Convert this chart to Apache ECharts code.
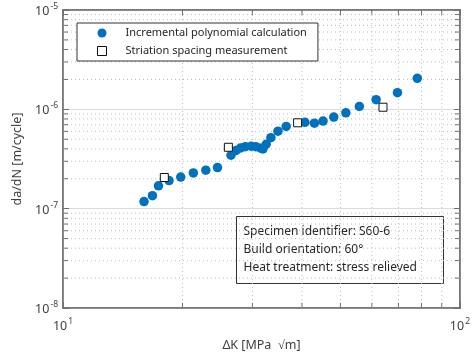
<!DOCTYPE html>
<html>
<head>
<meta charset="utf-8">
<script src="https://cdn.jsdelivr.net/npm/echarts@6/dist/echarts.min.js"></script>
<style>
  html, body { margin: 0; padding: 0; background: #fff; }
  #chart { width: 473px; height: 358px; }
</style>
</head>
<body>
<div id="chart"></div>
<script>
// Incremental polynomial calculation (ΔK in MPa√m, da/dN in m/cycle)
const polyDK = [16.0, 16.8, 17.4, 18.5, 19.8, 21.3, 22.9, 24.5, 26.5, 27.3, 28.0, 28.8, 29.8, 30.6,
  31.5, 31.9, 32.5, 33.4, 34.8, 36.5, 40.7, 43.0, 45.2, 48.1, 51.6, 55.8, 61.5, 69.6, 78.1]
const polyRate = [1.18e-7, 1.35e-7, 1.70e-7, 1.92e-7, 2.08e-7, 2.29e-7, 2.44e-7, 2.59e-7, 3.45e-7,
  3.86e-7, 4.08e-7, 4.21e-7, 4.25e-7, 4.21e-7, 4.06e-7, 3.99e-7, 4.45e-7, 5.18e-7, 6.03e-7,
  6.72e-7, 7.40e-7, 7.25e-7, 7.61e-7, 8.35e-7, 9.22e-7, 1.07e-6, 1.25e-6, 1.47e-6, 2.05e-6]

// Striation spacing measurement
const striDK = [18.0, 26.1, 39.0, 64.0]
const striRate = [2.06e-7, 4.15e-7, 7.32e-7, 1.05e-6]

// minor grid / tick values
const xMinor = [20, 30, 40, 50, 60, 70, 80, 90]
const yMinor = [2e-8, 3e-8, 4e-8, 5e-8, 6e-8, 7e-8, 8e-8, 9e-8,
  2e-7, 3e-7, 4e-7, 5e-7, 6e-7, 7e-7, 8e-7, 9e-7,
  2e-6, 3e-6, 4e-6, 5e-6, 6e-6, 7e-6, 8e-6, 9e-6]

const infoLines = ['Specimen identifier: S60-6', 'Build orientation: 60°', 'Heat treatment: stress relieved']

const FONT = 'Noto Sans'
const TEXT = '#404040'
const FRAME = '#707070'
const X_MIN = 10, X_MAX = 100, Y_MIN = 1e-8, Y_MAX = 1e-5

const chart = echarts.init(document.getElementById('chart'))

const powLabel = v => '{b|10}{s|' + Math.round(Math.log10(v)) + '}'
const powRich = {
  b: { fontSize: 12.5, color: TEXT, fontFamily: FONT, lineHeight: 16, verticalAlign: 'bottom' },
  s: { fontSize: 8.5, color: TEXT, fontFamily: FONT, lineHeight: 16, verticalAlign: 'top', padding: [0, 0, 0, 1] },
}

function minorRender(isX) {
  return function (params, api) {
    const v = api.value(isX ? 0 : 1)
    let a, b
    if (isX) {
      a = api.coord([v, Y_MIN]); b = api.coord([v, Y_MAX])
    } else {
      a = api.coord([X_MIN, v]); b = api.coord([X_MAX, v])
    }
    const dx = isX ? 0 : 5, dy = isX ? -5 : 0
    return {
      type: 'group',
      children: [
        { type: 'line', shape: { x1: a[0], y1: a[1], x2: b[0], y2: b[1] },
          style: { stroke: '#bfbfbf', lineWidth: 1, lineDash: [1, 3] } },
        { type: 'line', shape: { x1: a[0], y1: a[1], x2: a[0] + dx, y2: a[1] + dy },
          style: { stroke: FRAME, lineWidth: 1 } },
        { type: 'line', shape: { x1: b[0], y1: b[1], x2: b[0] - dx, y2: b[1] - dy },
          style: { stroke: FRAME, lineWidth: 1 } },
      ],
    }
  }
}

const logAxis = (min, max) => ({
  type: 'log', logBase: 10, min: min, max: max,
  axisLine: { show: true, lineStyle: { color: FRAME, width: 1.5 } },
  axisTick: { show: true, inside: true, length: 6, lineStyle: { color: FRAME } },
  splitLine: { show: true, lineStyle: { color: '#dcdcdc', width: 1 } },
})

chart.setOption({
  animation: false,
  backgroundColor: '#fff',
  textStyle: { fontFamily: FONT },
  grid: { left: 63, right: 9, top: 10, bottom: 50, show: true, borderColor: FRAME, borderWidth: 1.5 },
  xAxis: [
    Object.assign(logAxis(X_MIN, X_MAX), {
      position: 'bottom',
      name: 'ΔK [MPa  √m]', nameLocation: 'middle', nameGap: 31,
      nameTextStyle: { fontSize: 12.5, color: TEXT, fontFamily: FONT },
      axisLabel: { margin: 9, formatter: powLabel, rich: powRich },
    }),
    Object.assign(logAxis(X_MIN, X_MAX), {
      position: 'top', axisLabel: { show: false }, splitLine: { show: false },
    }),
  ],
  yAxis: [
    Object.assign(logAxis(Y_MIN, Y_MAX), {
      position: 'left',
      name: 'da/dN [m/cycle]', nameLocation: 'middle', nameGap: 36,
      nameTextStyle: { fontSize: 12.5, color: TEXT, fontFamily: FONT },
      axisLabel: { margin: 5, formatter: powLabel, rich: powRich },
    }),
    Object.assign(logAxis(Y_MIN, Y_MAX), {
      position: 'right', axisLabel: { show: false }, splitLine: { show: false },
    }),
  ],
  legend: {
    left: 77, top: 23, orient: 'vertical',
    padding: [3, 11, 3, 20],
    itemWidth: 9, itemHeight: 9, itemGap: 4,
    borderColor: '#333', borderWidth: 1, backgroundColor: '#fff',
    textStyle: { fontSize: 11, color: '#262626', fontFamily: FONT, lineHeight: 14, padding: [0, 0, 0, 14] },
    data: [
      { name: 'Incremental polynomial calculation', icon: 'circle' },
      { name: 'Striation spacing measurement', icon: 'rect', itemStyle: { borderWidth: 1 } },
    ],
  },
  graphic: [{
    type: 'group', left: 236, top: 216,
    children: [
      { type: 'rect', shape: { x: 0, y: 0, width: 207, height: 67 },
        style: { fill: '#fff', stroke: '#333', lineWidth: 1 } },
      { type: 'text', x: 7, y: 6,
        style: { text: infoLines.join('\n'), font: '12px "Noto Sans"', fill: '#262626', lineHeight: 18 } },
    ],
  }],
  series: [
    {
      type: 'custom', z: 1, silent: true,
      data: xMinor.map(v => [v, 1e-7]),
      renderItem: minorRender(true),
    },
    {
      type: 'custom', z: 1, silent: true,
      data: yMinor.map(v => [20, v]),
      renderItem: minorRender(false),
    },
    {
      name: 'Incremental polynomial calculation',
      type: 'scatter', z: 3,
      symbol: 'circle', symbolSize: 9.5,
      itemStyle: { color: '#0072BD', opacity: 1 },
      data: polyDK.map((x, i) => [x, polyRate[i]]),
    },
    {
      name: 'Striation spacing measurement',
      type: 'scatter', z: 4,
      symbol: 'rect', symbolSize: 8,
      itemStyle: { color: '#fff', borderColor: '#111', borderWidth: 1, opacity: 1 },
      data: striDK.map((x, i) => [x, striRate[i]]),
    },
  ],
})
</script>
</body>
</html>
